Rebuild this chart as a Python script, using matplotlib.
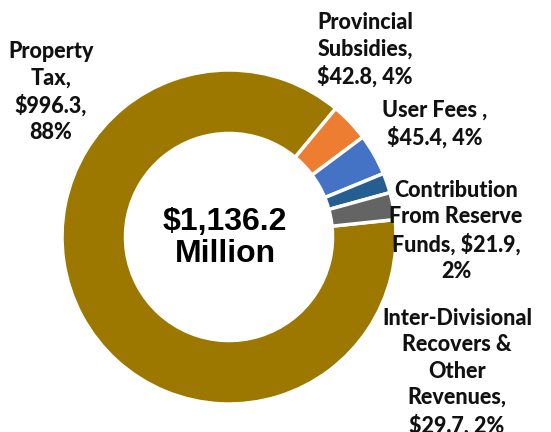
import matplotlib.pyplot as plt

# revenue sources ($ millions)
labels = ['Property\nTax,\n$996.3,\n88%',
          'Provincial\nSubsidies,\n$42.8, 4%',
          'User Fees ,\n$45.4, 4%',
          'Contribution\nFrom Reserve\nFunds, $21.9,\n2%',
          'Inter-Divisional\nRecovers &\nOther\nRevenues,\n$29.7, 2%']
values = [996.3, 42.8, 45.4, 21.9, 29.7]
colors = ['#9C7800', '#ED7D31', '#4472C4', '#255E91', '#646464']
total_label = '$1,136.2\nMillion'

# label spots in pixel coords (x, y from top)
label_pos = [(51, 92), (365, 50), (435, 124), (456, 231), (457, 372)]

W, H = 551, 432
fig = plt.figure(figsize=(W / 100, H / 100), dpi=100)
ax = fig.add_axes([0, 0, 1, 1])

cx, cy, r = 229, 237, 167
ax.pie(values, colors=colors, startangle=6, counterclock=False,
       center=(cx, H - cy), radius=r,
       wedgeprops=dict(width=r * 0.38, edgecolor='white', linewidth=2.5))

for lab, (x, y) in zip(labels, label_pos):
    ax.text(x, H - y, lab, ha='center', va='center', fontsize=15.5,
            fontweight=900, family='Lato', linespacing=1.32, color='#111111')

ax.text(225, H - 238, total_label, ha='center', va='center', fontsize=23,
        fontweight='bold', family='Liberation Sans', linespacing=1.1)

ax.set_xlim(0, W)
ax.set_ylim(0, H)
ax.set_aspect('equal')
ax.axis('off')

fig.savefig('out.png', dpi=100)
